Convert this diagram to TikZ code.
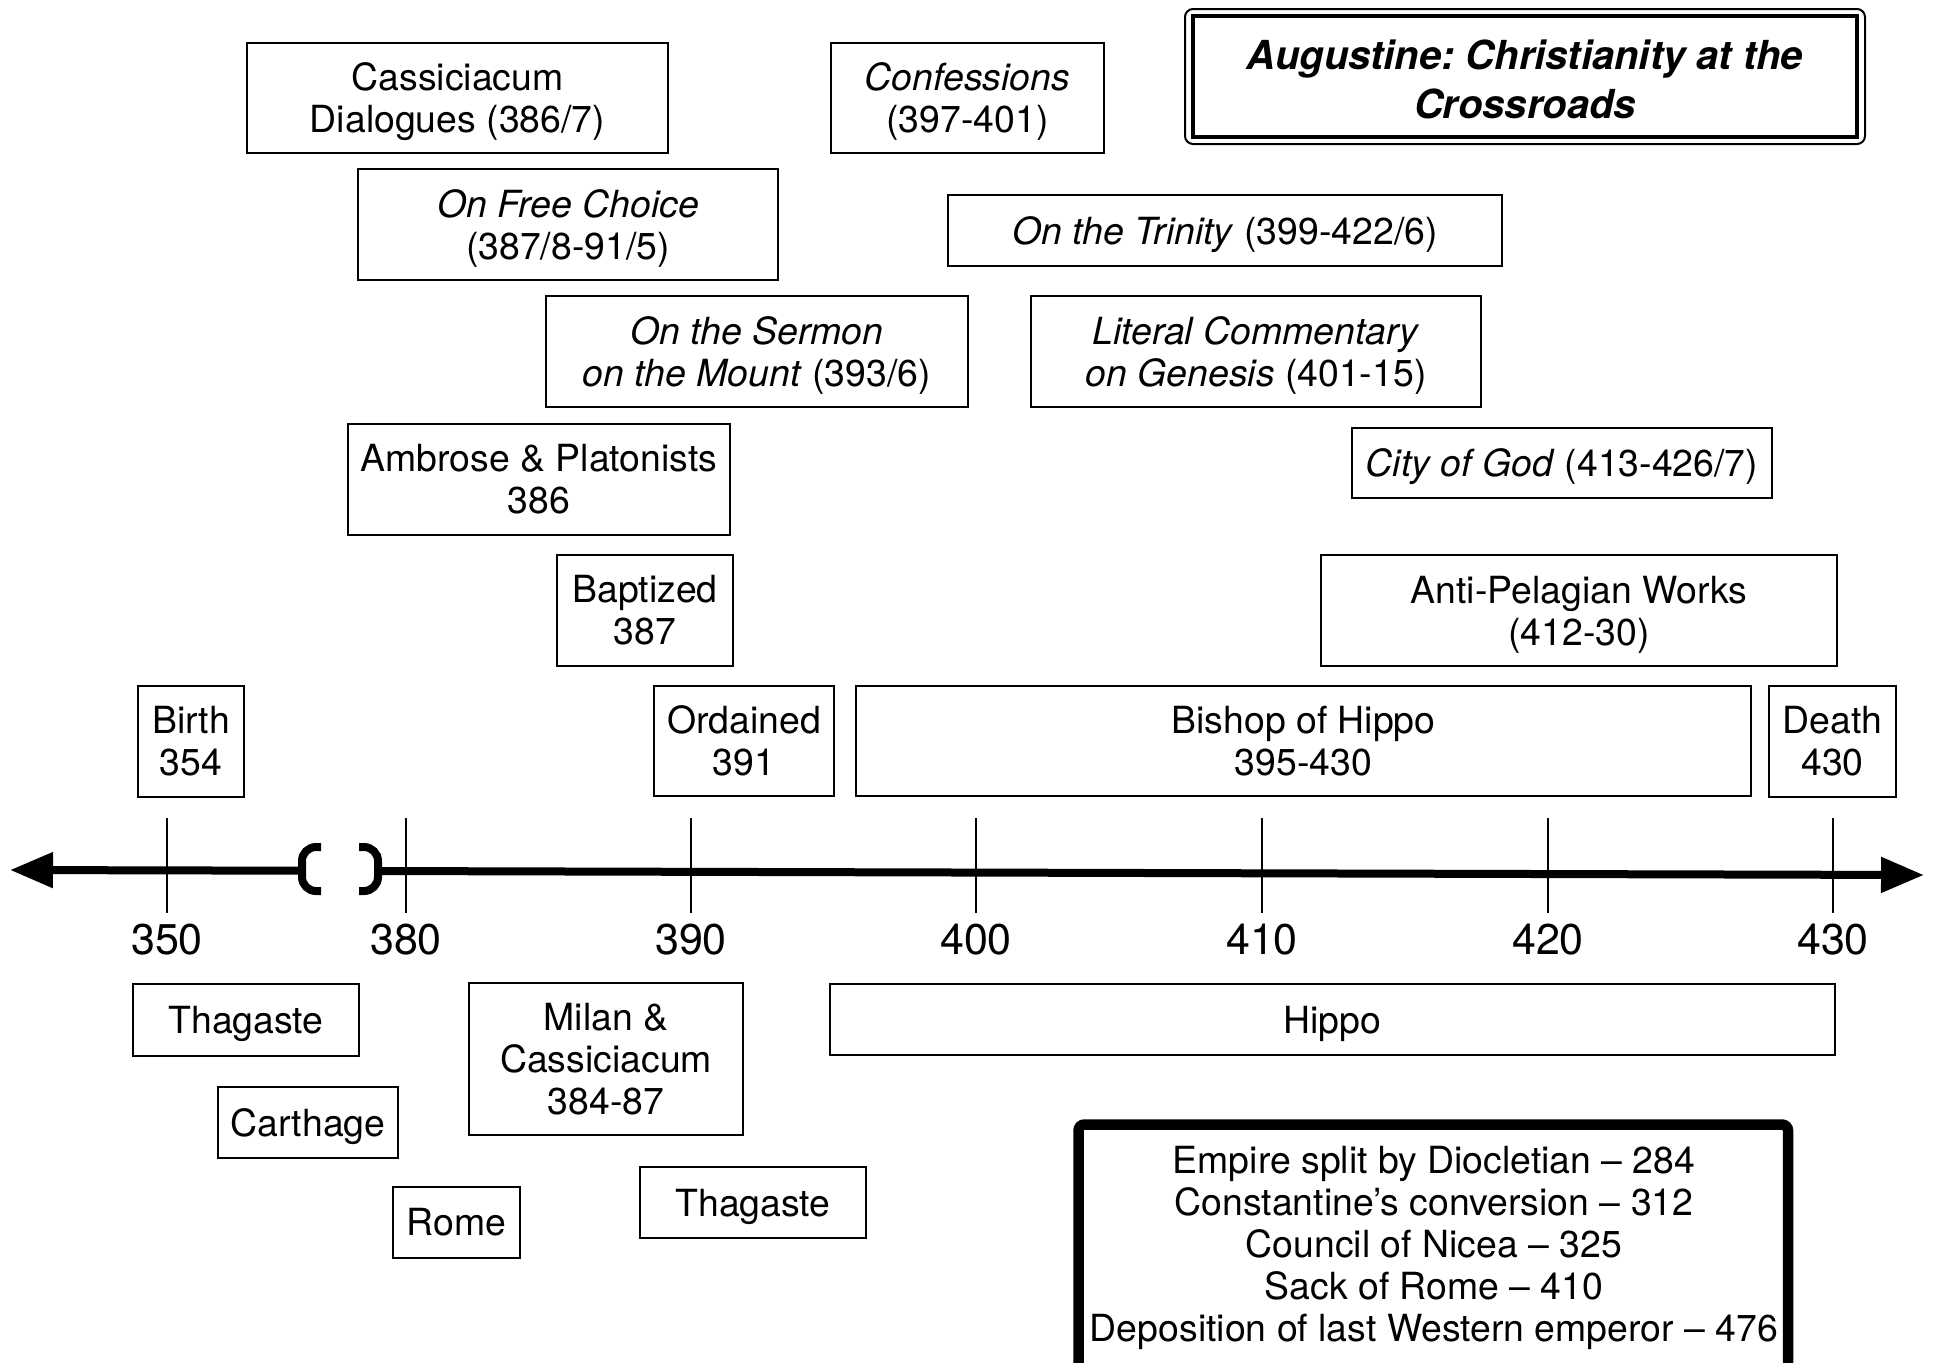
\documentclass[tikz,border=0pt]{standalone}
\usepackage{fontspec}
\setmainfont{TeX Gyre Heros}
\usetikzlibrary{arrows.meta}
\frenchspacing
\newcommand\zd[1]{\raisebox{0pt}[\height][0pt]{#1}}
\tikzset{
  box/.style={draw, line width=1pt, inner sep=0pt, align=center, font=\fontsize{18.7}{21}\selectfont},
  yearlbl/.style={inner sep=0pt, font=\fontsize{21.5}{25}\selectfont},
  tickline/.style={line width=1.2pt},
  axisline/.style={line width=4pt},
  brk/.style={line width=4pt, rounded corners=7pt},
}
\begin{document}
\begin{tikzpicture}[x=0.5pt,y=-0.5pt]
\useasboundingbox (0,0) rectangle (1934,1362);
\fill[white] (0,0) rectangle (1934,1362);

% title
\draw[line width=1pt, rounded corners=4pt] (1185,9) rectangle (1865,144);
\draw[line width=2pt] (1193,16) rectangle (1857,137);
\node[inner sep=0pt, align=center, font=\fontsize{20}{24.5}\selectfont\bfseries\itshape] (title) at (1525,79) {Augustine: Christianity at the\\Crossroads};

% upper boxes
\node[box, minimum width=210.5pt, minimum height=55pt] (cass) at (457.5,98) {Cassiciacum\\\zd{Dialogues (386/7)}};
\node[box, minimum width=136.5pt, minimum height=55pt] (conf) at (967.5,98) {\textit{Confessions}\\\zd{(397-401)}};
\node[box, minimum width=210pt, minimum height=55.5pt] (free) at (568,224.5) {\textit{On Free Choice}\\\zd{(387/8-91/5)}};
\node[box, minimum width=277pt, minimum height=35.5pt] (trin) at (1225,230.5) {\zd{\textit{On the Trinity} (399-422/6)}};
\node[box, minimum width=211pt, minimum height=55.5pt] (serm) at (757,351.5) {\textit{On the Sermon}\\\zd{\textit{on the Mount} (393/6)}};
\node[box, minimum width=225pt, minimum height=55.5pt] (lit) at (1256,351.5) {\textit{Literal Commentary}\\\zd{\textit{on Genesis} (401-15)}};
\node[box, minimum width=191pt, minimum height=55.5pt] (ambr) at (539,479.5) {Ambrose \& Platonists\\386};
\node[box, minimum width=210pt, minimum height=35pt] (city) at (1562,463) {\zd{\textit{City of God} (413-426/7)}};
\node[box, minimum width=88pt, minimum height=55.5pt] (bapt) at (645,610.5) {Baptized\\387};
\node[box, minimum width=258pt, minimum height=55.5pt] (anti) at (1579,610.5) {Anti-Pelagian Works\\\zd{(412-30)}};
\node[box, minimum width=53pt, minimum height=55.5pt] (birth) at (191,741.5) {Birth\\354};
\node[box, minimum width=90pt, minimum height=55pt] (ord) at (744,741) {Ordained\\391};
\node[box, minimum width=447.5pt, minimum height=55pt] (bish) at (1303.5,741) {Bishop of Hippo\\395-430};
\node[box, minimum width=63.5pt, minimum height=55.5pt] (death) at (1832.5,741.5) {Death\\430};

% axis
\coordinate (ltip) at (10,870);
\coordinate (lend) at (302,870.7);
\coordinate (rstart) at (378,871);
\coordinate (rtip) at (1924,875);
\draw[axisline, -{Triangle[length=21.5pt,width=17pt]}] (lend) -- (ltip);
\draw[axisline, -{Triangle[length=21.5pt,width=17pt]}] (rstart) -- (rtip);
\draw[brk] (321,847) -- (302,847) -- (302,891) -- (321,891);
\draw[brk] (359,847) -- (378,847) -- (378,891) -- (359,891);

\foreach \x/\yr in {167/350, 406/380, 691/390, 976/400, 1262/410, 1548/420, 1833/430}{
  \coordinate (t\yr) at (\x,818);
  \coordinate (b\yr) at (\x,913);
  \draw[tickline] (t\yr) -- (b\yr);
  \node[yearlbl] (y\yr) at (\x,940) {\yr};
}

% lower boxes
\node[box, minimum width=113pt, minimum height=36pt] (thag1) at (246,1020) {\zd{Thagaste}};
\node[box, minimum width=90pt, minimum height=35.5pt] (carth) at (308,1122.5) {\zd{Carthage}};
\node[box, minimum width=63.5pt, minimum height=35.5pt] (rome) at (456.5,1222.5) {Rome};
\node[box, minimum width=137pt, minimum height=76pt] (milan) at (606,1059) {Milan \&\\Cassiciacum\\384-87};
\node[box, minimum width=113pt, minimum height=35.5pt] (thag2) at (753,1202.5) {\zd{Thagaste}};
\node[box, minimum width=502.5pt, minimum height=35.5pt] (hippo) at (1332.5,1019.5) {\zd{Hippo}};

% events box
\begin{scope}
\clip (0,0) rectangle (1934,1362);
\draw[line width=5.25pt, rounded corners=3pt] (1078.5,1124.5) rectangle (1788,1400);
\end{scope}
\node[inner sep=0pt, align=center, font=\fontsize{18.7}{21.1}\selectfont] (events) at (1434,1248) {Empire split by Diocletian -- 284\\Constantine’s conversion -- 312\\Council of Nicea -- 325\\Sack of Rome -- 410\\Deposition of last Western emperor -- 476};
\end{tikzpicture}
\end{document}
